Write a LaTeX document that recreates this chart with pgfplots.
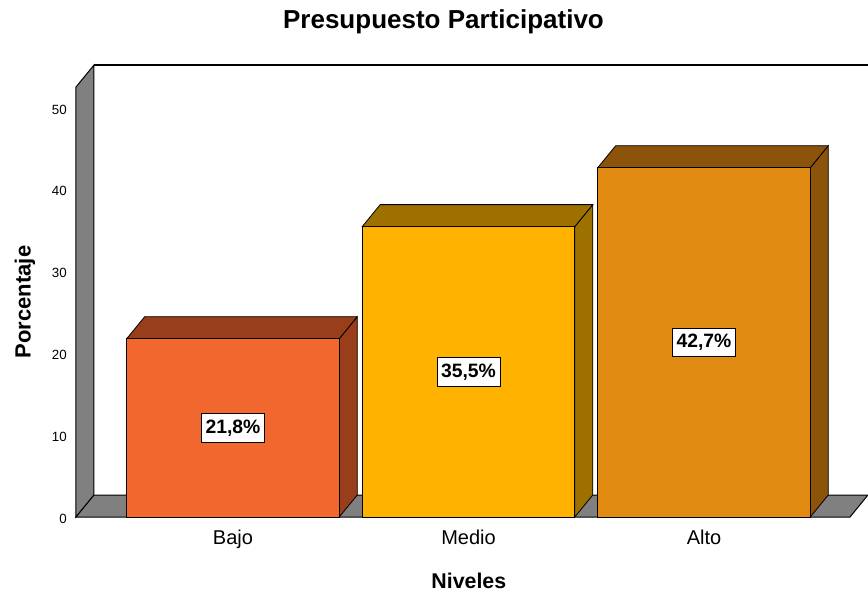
\documentclass[border=0pt]{standalone}
\usepackage{fontspec}
\setmainfont{Liberation Sans}
\usepackage{pgfplots}
\pgfplotsset{compat=1.18}
\definecolor{wallgray}{RGB}{128,128,128}
\definecolor{bajoF}{RGB}{242,103,45}
\definecolor{bajoD}{RGB}{152,62,27}
\definecolor{medioF}{RGB}{255,179,0}
\definecolor{medioD}{RGB}{158,112,0}
\definecolor{altoF}{RGB}{224,138,18}
\definecolor{altoD}{RGB}{140,84,10}
\begin{document}
\begin{tikzpicture}
\useasboundingbox (-57pt,-57.75pt) rectangle ++(651pt,445.5pt);
\begin{axis}[
  at={(0,0)}, anchor=south west,
  width=594pt, height=339pt, scale only axis,
  xmin=-0.6667, xmax=2.6964, ymin=0, ymax=55.257,
  clip=false,
  axis line style={draw=none},
  major tick length=0pt,
  xtick={0,1,2}, xticklabels={Bajo,Medio,Alto},
  ytick={0,10,20,30,40,50},
  /pgf/number format/assume math mode=true,
  yticklabel style={font=\fontsize{10}{12}\selectfont, anchor=east, inner sep=0pt, xshift=-6.75pt, yshift=-1.2pt},
  xticklabel style={font=\fontsize{15}{18}\selectfont, anchor=north, inner sep=0pt, yshift=-9.5pt},
  xlabel={Niveles},
  xlabel style={font=\bfseries\fontsize{16}{19}\selectfont, at={(axis description cs:0.496,0)}, anchor=base, inner sep=0pt, yshift=-53.25pt},
  ylabel={Porcentaje},
  ylabel style={font=\bfseries\fontsize{16.5}{19}\selectfont, at={(axis description cs:0,0.4757)}, anchor=base, inner sep=0pt, yshift=34pt},
]
% back wall top edge
\addplot[black, line width=0.9pt] coordinates {(-0.5903,55.257) (2.6964,55.257)};
% left wall
\addplot[fill=wallgray, draw=black, line width=0.75pt] coordinates {(-0.6667,0) (-0.6667,52.567) (-0.5903,55.257) (-0.5903,2.69)} --cycle;
% floor
\addplot[fill=wallgray, draw=black, line width=0.75pt] coordinates {(-0.6667,0) (2.6200,0) (2.6964,2.69) (-0.5903,2.69)} --cycle;
% Bajo
\addplot[fill=bajoD, draw=black, line width=0.6pt] coordinates {(0.4513,0) (0.5277,2.69) (0.5277,24.49) (0.4513,21.8)} --cycle;
\addplot[fill=bajoD, draw=black, line width=0.6pt] coordinates {(-0.4513,21.8) (0.4513,21.8) (0.5277,24.49) (-0.3749,24.49)} --cycle;
\addplot[ybar, bar width=0.9026, bar shift=0pt, fill=bajoF, draw=black, line width=0.6pt] coordinates {(0,21.8)};
% Medio
\addplot[fill=medioD, draw=black, line width=0.6pt] coordinates {(1.4513,0) (1.5277,2.69) (1.5277,38.19) (1.4513,35.5)} --cycle;
\addplot[fill=medioD, draw=black, line width=0.6pt] coordinates {(0.5487,35.5) (1.4513,35.5) (1.5277,38.19) (0.6251,38.19)} --cycle;
\addplot[ybar, bar width=0.9026, bar shift=0pt, fill=medioF, draw=black, line width=0.6pt] coordinates {(1,35.5)};
% Alto
\addplot[fill=altoD, draw=black, line width=0.6pt] coordinates {(2.4513,0) (2.5277,2.69) (2.5277,45.39) (2.4513,42.7)} --cycle;
\addplot[fill=altoD, draw=black, line width=0.6pt] coordinates {(1.5487,42.7) (2.4513,42.7) (2.5277,45.39) (1.6251,45.39)} --cycle;
\addplot[ybar, bar width=0.9026, bar shift=0pt, fill=altoF, draw=black, line width=0.6pt] coordinates {(2,42.7)};
% data labels
\addplot[draw=none, mark=none, point meta=explicit symbolic,
  nodes near coords={\pgfplotspointmeta\%},
  nodes near coords style={anchor=center, fill=white, draw=black, line width=0.6pt, font=\bfseries\fontsize{14.5}{17}\selectfont, inner xsep=3pt, inner ysep=4.5pt}]
  table[meta=lab] {
x y lab
0 10.9 21,8
1 17.75 35,5
2 21.35 42,7
};
\node[font=\bfseries\fontsize{19.5}{23}\selectfont, anchor=base, inner sep=0pt] at (rel axis cs:0.464,1) [yshift=27.75pt] {Presupuesto Participativo};
\end{axis}
\end{tikzpicture}
\end{document}
